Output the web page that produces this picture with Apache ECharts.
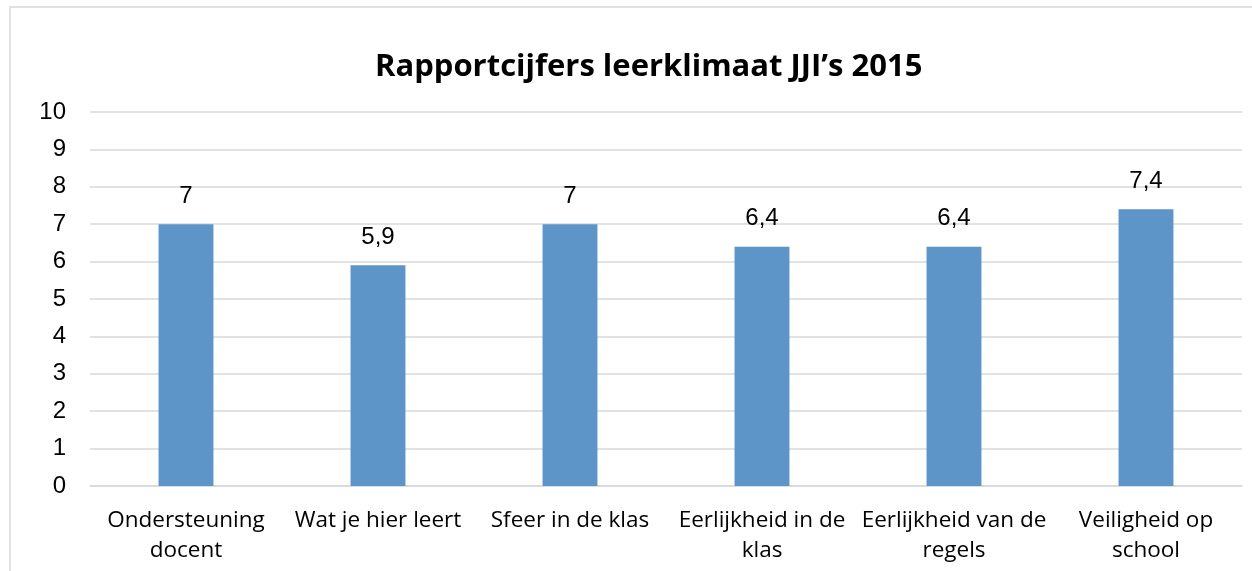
<!DOCTYPE html>
<html>
<head>
    <title>ECharts</title>
    <meta charset="utf-8">
    <style>
        html, body { margin: 0; padding: 0; background: #fff; }
        #main { width: 1252px; height: 571px; }
    </style>
</head>
<body>
    <div id="main"></div>
    <script type="text/javascript" src="https://cdn.jsdelivr.net/npm/echarts@6/dist/echarts.min.js"></script>
    <script type="text/javascript">
    // categorieen (met regelafbreking zoals in het origineel)
    var categories = [
        'Ondersteuning\ndocent',
        'Wat je hier leert',
        'Sfeer in de klas',
        'Eerlijkheid in de\nklas',
        'Eerlijkheid van de\nregels',
        'Veiligheid op\nschool'
    ];
    var scores = [7, 5.9, 7, 6.4, 6.4, 7.4];
    var yTicks = [0, 1, 2, 3, 4, 5, 6, 7, 8, 9, 10];

    var myChart = echarts.init(document.getElementById('main'));

    var option = {
        backgroundColor: '#fff',
        animation: false,
        title: {
            text: 'Rapportcijfers leerklimaat JJI\u2019s 2015',
            left: 370,
            top: 47,
            textStyle: {
                fontFamily: 'Open Sans',
                fontWeight: 'bold',
                fontSize: 31,
                color: '#000'
            }
        },
        graphic: [{
            type: 'rect',
            shape: { x: 10, y: 7, width: 1300, height: 700 },
            style: { fill: 'none', stroke: '#d9d9d9', lineWidth: 1.5 },
            silent: true
        }],
        grid: {
            left: 90,
            right: 10,
            top: 112,
            bottom: 85
        },
        xAxis: {
            type: 'category',
            data: categories,
            axisTick: { show: false },
            axisLine: { lineStyle: { color: '#d9d9d9', width: 1.5 } },
            axisLabel: {
                interval: 0,
                margin: 20,
                fontFamily: 'Open Sans',
                fontSize: 22.5,
                lineHeight: 30,
                color: '#000'
            }
        },
        yAxis: {
            type: 'value',
            min: yTicks[0],
            max: yTicks[yTicks.length - 1],
            interval: 1,
            axisLine: { show: false },
            axisTick: { show: false },
            splitLine: { lineStyle: { color: '#d9d9d9', width: 1.5 } },
            axisLabel: {
                margin: 24,
                fontFamily: 'Liberation Sans',
                fontSize: 24,
                color: '#000'
            }
        },
        series: [{
            type: 'bar',
            data: scores,
            barWidth: '28.6%',
            itemStyle: { color: '#5e95c8' },
            label: {
                show: true,
                position: 'top',
                distance: 16,
                fontFamily: 'Liberation Sans',
                fontSize: 24,
                color: '#000',
                formatter: function (p) {
                    return String(p.value).replace('.', ',');
                }
            }
        }]
    };

    myChart.setOption(option);
    </script>
</body>
</html>
